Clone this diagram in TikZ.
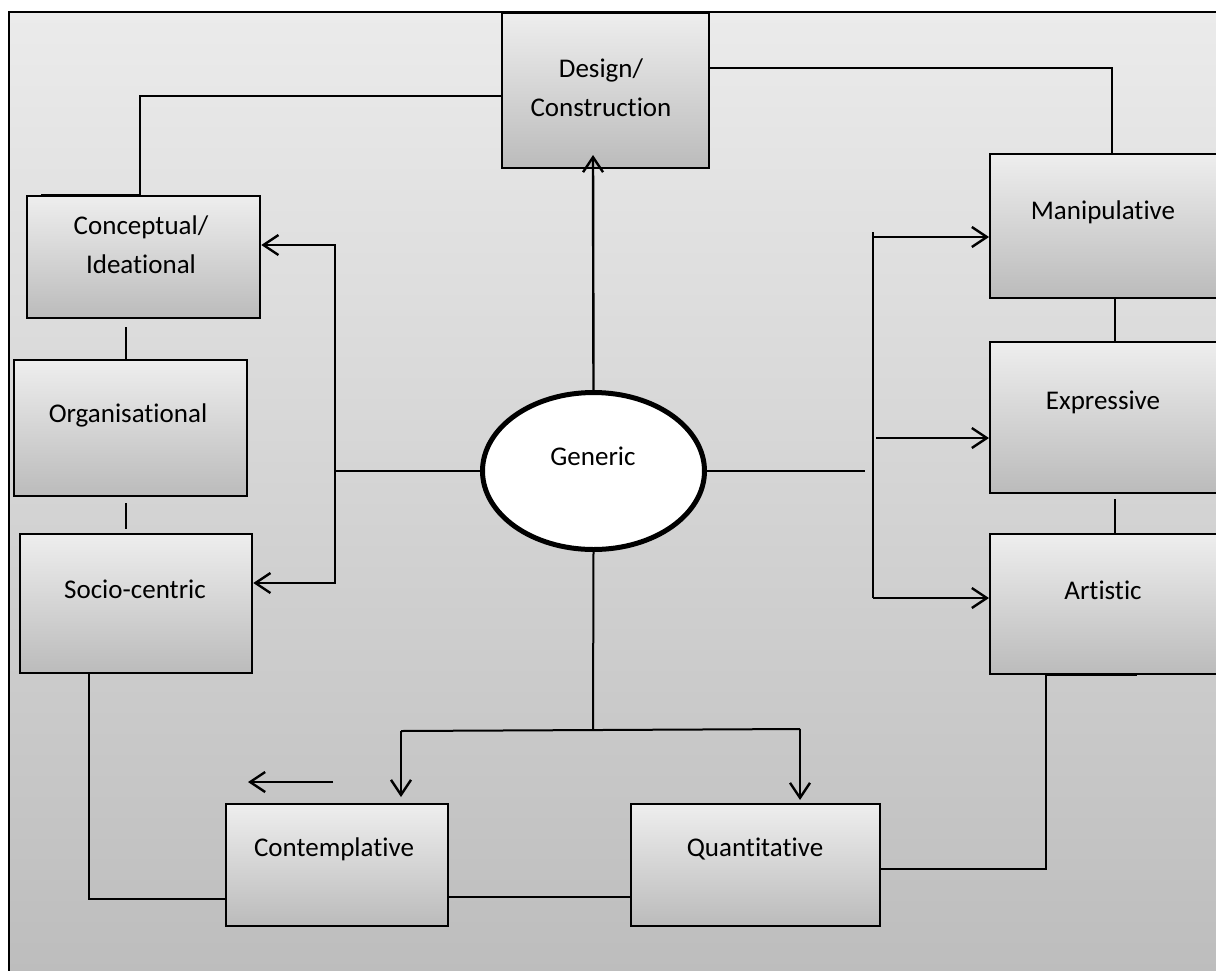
\documentclass[tikz,border=0pt]{standalone}
\usepackage{fontspec}
\setmainfont{Carlito}
\usetikzlibrary{arrows.meta,shapes.geometric}
\definecolor{bgtop}{HTML}{EBEBEB}
\definecolor{bgbot}{HTML}{BCBCBC}
\definecolor{boxtop}{HTML}{EEEEEE}
\definecolor{boxbot}{HTML}{BBBBBB}
% keeps "t" and "i" as separate glyphs
\newcommand\nolig{\kern0pt{}}
\begin{document}
\begin{tikzpicture}[x=1pt,y=-1pt,
  conn/.style={line width=2pt},
  arr/.style={line width=2.4pt,-{Straight Barb[length=15pt,width=20pt,line width=2.4pt]}},
  twoarr/.style={line width=2.4pt,{Straight Barb[length=15pt,width=20pt,line width=2.4pt]}-{Straight Barb[length=15pt,width=20pt,line width=2.4pt]}},
  box/.style={draw, line width=2.3pt, top color=boxtop, bottom color=boxbot,
    anchor=north west, inner sep=0pt},
  lbl/.style={font=\fontsize{27}{39}\selectfont, align=center, inner sep=0pt}]
\useasboundingbox (0,0) rectangle (1216,970);
\clip (0,0) rectangle (1216,970);

% frame with graded background
\shade[top color=bgtop, bottom color=bgbot, draw=black, line width=2.4pt]
  (9,12) rectangle (1240,995);

% boxes
\node[box, minimum width=207pt, minimum height=155pt] (design) at (501,12) {};
\node[box, minimum width=233pt, minimum height=122pt] (concept) at (26,195) {};
\node[box, minimum width=233pt, minimum height=136pt] (organ) at (13,359) {};
\node[box, minimum width=232pt, minimum height=139pt] (socio) at (19,533) {};
\node[box, minimum width=240pt, minimum height=144pt] (manip) at (989,153) {};
\node[box, minimum width=240pt, minimum height=151pt] (expr) at (989,341) {};
\node[box, minimum width=240pt, minimum height=140pt] (artis) at (989,533) {};
\node[box, minimum width=222pt, minimum height=122pt] (contemp) at (225,803) {};
\node[box, minimum width=249pt, minimum height=122pt] (quant) at (630,803) {};
\node[draw, ellipse, line width=5pt, fill=white, inner sep=0pt,
  minimum width=222pt, minimum height=157pt] (generic) at (593.5,471) {};

% labels
\node[lbl] (designT) at (601,88) {Design/\\Construct\nolig ion};
\node[lbl] (conceptT) at (141,245) {Conceptual/\\Ideat\nolig ional};
\node[lbl] (organT) at (128,415) {Organisat\nolig ional};
\node[lbl] (socioT) at (135,589) {Socio-centric};
\node[lbl] (manipT) at (1103,212) {Manipulat\nolig ive};
\node[lbl] (exprT) at (1103,402) {Expressive};
\node[lbl] (artisT) at (1103,590) {Art\nolig ist\nolig ic};
\node[lbl] (contempT) at (334,849) {Contemplat\nolig ive};
\node[lbl] (quantT) at (755,849) {Quant\nolig itat\nolig ive};
\node[lbl] (genericT) at (593,456) {Generic};

% helper points of the brackets
\coordinate (lb) at (335,471);
\coordinate (rb) at (865,471);
\coordinate (rtop) at (873,232);
\coordinate (rbot) at (873,598);
\coordinate (bfork) at (593,730);
\coordinate (freeA) at (333,782);
\coordinate (freeB) at (248,782);

% top links
\draw[conn] (design.west |- 0,96) -- (140,96) -- (concept.north -| 140,0);
\draw[line width=2.6pt] (concept.north -| 41,0) -- (concept.north -| 140,0);
\draw[conn] (design.east |- 0,68) -- (1112,68) -- (manip.north -| 1112,0);
\draw[arr] (generic.north) -- (593,155);

% left column
\draw[conn] (126,327) -- (organ.north -| 126,0);
\draw[conn] (126,503) -- (126,529);
\draw[conn] (generic.west) -- (lb);
\draw[twoarr] (concept.east |- 0,245) -- (335,245) -- (335,583) -- (socio.east |- 0,583);
\draw[conn] (socio.south -| 89,0) -- (89,899) -- (contemp.west |- 0,899);

% right column
\draw[conn] (generic.east) -- (rb);
\draw[conn] (rtop) -- (rbot);
\draw[arr] (873,237) -- (manip.west |- 0,237);
\draw[arr] (876,438) -- (expr.west |- 0,438);
\draw[arr] (rbot) -- (artis.west |- 0,598);
\draw[conn] (1115,297) -- (1115,341);
\draw[conn] (1115,499) -- (1115,533);

% bottom
\draw[conn] (generic.south) -- (bfork);
\draw[conn] (401,731) -- (800,729);
\draw[arr] (401,731) -- (401,797);
\draw[arr] (800,729) -- (800,800);
\draw[arr] (freeA) -- (freeB);
\draw[conn] (contemp.east |- 0,897) -- (quant.west |- 0,897);
\draw[conn] (quant.east |- 0,869) -- (1046,869) -- (1046,675);
\draw[line width=2.6pt] (1046,675) -- (1137,675);
\end{tikzpicture}
\end{document}
